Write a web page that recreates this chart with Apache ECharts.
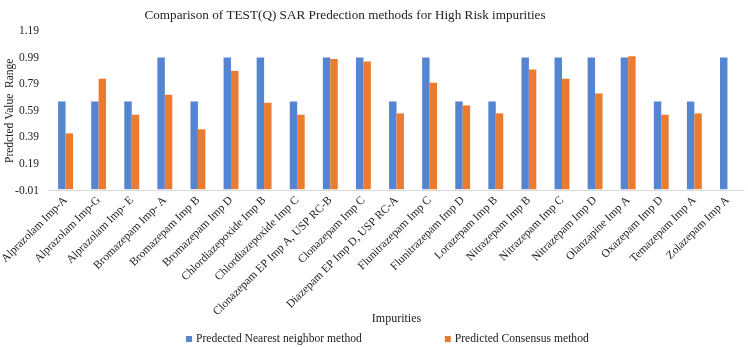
<!DOCTYPE html>
<html>
<head>
<meta charset="utf-8">
<script src="https://cdn.jsdelivr.net/npm/echarts@6/dist/echarts.min.js"></script>
<style>html,body{margin:0;padding:0;background:#fff}#c{width:748px;height:347px}</style>
</head>
<body>
<div id="c"></div>
<script>
const categories = ['Alprazolam Imp-A','Alprazolam Imp-G','Alprazolam Imp- E','Bromazepam Imp- A','Bromazepam Imp B','Bromazepam Imp D','Chlordiazepoxide Imp B','Chlordiazepoxide Imp C','Clonazepam EP Imp A, USP RC-B','Clonazepam Imp C','Diazepam EP Imp D, USP RC-A','Flunitrazepam Imp C','Flunitrazepam Imp D','Lorazepam Imp B','Nitrazepam Imp B','Nitrazepam Imp C','Nitrazepam Imp D','Olanzapine Imp A','Oxazepam Imp D','Temazepam Imp A','Zolazepam Imp A'];
const nearestNeighbor = [0.66,0.66,0.66,0.99,0.66,0.99,0.99,0.66,0.99,0.99,0.66,0.99,0.66,0.66,0.99,0.99,0.99,0.99,0.66,0.66,0.99];
const consensus = [0.42,0.83,0.56,0.71,0.45,0.89,0.65,0.56,0.98,0.96,0.57,0.80,0.63,0.57,0.90,0.83,0.72,1.00,0.56,0.57,null];
const yTicks = [-0.01,0.19,0.39,0.59,0.79,0.99,1.19];
const seriesNames = ['Predected Nearest neighbor method','Predicted Consensus method'];

const font = '"Liberation Serif", "Times New Roman", serif';
const chart = echarts.init(document.getElementById('c'), null, {renderer:'canvas'});
chart.setOption({
  animation: false,
  backgroundColor: '#fff',
  textStyle: {fontFamily: font},
  title: {
    text: 'Comparison of TEST(Q) SAR Predection methods for High Risk impurities',
    left: 340, textAlign: 'center', top: 4,
    textStyle: {fontFamily: font, fontSize: 13.2, fontWeight: 'normal', color: '#222'}
  },
  legend: {
    left: 181, top: 328, itemWidth: 6, itemHeight: 6, itemGap: 83,
    icon: 'rect',
    textStyle: {fontFamily: font, fontSize: 11.6, color: '#222', padding: [0,0,0,-1]},
    data: seriesNames
  },
  grid: {left: 49, right: 4, top: 31, bottom: 156.5, containLabel: false, outerBoundsMode: 'none'},
  xAxis: {
    type: 'category', data: categories,
    name: 'Impurities', nameLocation: 'middle', nameGap: 122, nameMoveOverlap: false,
    nameTextStyle: {fontFamily: font, fontSize: 12, color: '#222'},
    axisLine: {onZero: false, lineStyle: {color: '#d9d9d9'}},
    axisTick: {show: false},
    axisLabel: {rotate: 45, interval: 0, fontFamily: font, fontSize: 11.5, color: '#222', margin: 8}
  },
  yAxis: {
    type: 'value', min: -0.01, max: 1.19,
    name: 'Predcted Value  Range', nameLocation: 'middle', nameGap: 33, nameMoveOverlap: false,
    nameTextStyle: {fontFamily: font, fontSize: 11.5, color: '#222'},
    axisLine: {show: false}, axisTick: {show: false}, splitLine: {show: false},
    axisLabel: {customValues: yTicks, fontFamily: font, fontSize: 11.5, color: '#222', margin: 10,
      formatter: v => v.toFixed(2)}
  },
  series: [
    {name: seriesNames[0], type: 'bar', data: nearestNeighbor, barGap: '0%', barCategoryGap: '55%', itemStyle: {color: '#5585d0'}},
    {name: seriesNames[1], type: 'bar', data: consensus, barGap: '0%', barCategoryGap: '55%', itemStyle: {color: '#e97c30'}}
  ]
});
</script>
</body>
</html>
